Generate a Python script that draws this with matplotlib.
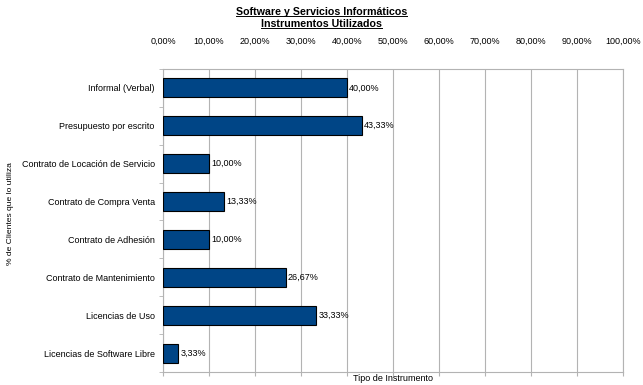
import matplotlib.pyplot as plt
import numpy as np

plt.rcParams['font.family'] = ['Liberation Sans', 'DejaVu Sans']

instrumentos = ['Informal (Verbal)', 'Presupuesto por escrito',
                'Contrato de Locación de Servicio', 'Contrato de Compra Venta',
                'Contrato de Adhesión', 'Contrato de Mantenimiento',
                'Licencias de Uso', 'Licencias de Software Libre']
porcentajes = [40.00, 43.33, 10.00, 13.33, 10.00, 26.67, 33.33, 3.33]
x_ticks = np.arange(0, 101, 10)

grid_col = '#b3b3b3'
fs = 6.5

fig = plt.figure(figsize=(6.43, 3.85), dpi=100)
ax = fig.add_axes([0.2535, 0.0338, 0.7154, 0.787])

y = np.arange(len(instrumentos))
ax.barh(y, porcentajes, height=0.5, color='#004586', edgecolor='black',
        linewidth=0.8, zorder=3)
for yi, v in zip(y, porcentajes):
    ax.text(v + 0.4, yi, ('%.2f%%' % v).replace('.', ','), va='center', ha='left',
            fontsize=fs, zorder=4)

ax.set_xlim(0, 100)
ax.set_ylim(len(instrumentos) - 0.5, -0.5)

ax.set_xticks(x_ticks)
ax.set_xticklabels([('%.2f%%' % t).replace('.', ',') for t in x_ticks], fontsize=fs)
ax.tick_params(axis='x', top=False, bottom=True, labeltop=True, labelbottom=False,
               length=3, color=grid_col, pad=14)
ax.grid(axis='x', color=grid_col, linewidth=0.8, zorder=0)

ax.set_yticks(y)
ax.set_yticklabels(instrumentos, fontsize=fs)
ax.set_yticks(np.arange(-0.5, len(instrumentos), 1), minor=True)
ax.tick_params(axis='y', which='major', length=0, pad=6)
ax.tick_params(axis='y', which='minor', length=3, color=grid_col)

for s in ax.spines.values():
    s.set_color(grid_col)
    s.set_linewidth(0.8)

ax.set_xlabel('Tipo de Instrumento', fontsize=fs, va='center')
ax.xaxis.set_label_coords(0.5, -0.02)
fig.text(11 / 643, 0.444, '% de Clientes que lo utiliza', rotation=90,
         ha='center', va='center', fontsize=6.1)

# two-line title, each line underlined
fig.canvas.draw()
r = fig.canvas.get_renderer()
for txt, yy in [('Software y Servicios Informáticos', 1 - 12 / 385),
                ('Instrumentos Utilizados', 1 - 24 / 385)]:
    t = fig.text(0.5, yy, txt, ha='center', va='center', fontsize=7.7,
                 fontweight='bold')
    bb = t.get_window_extent(r).transformed(fig.transFigure.inverted())
    fig.add_artist(plt.Line2D([bb.x0, bb.x1], [bb.y0 + 0.002, bb.y0 + 0.002],
                              color='black', lw=0.7))

fig.savefig('out.png', dpi=100)
